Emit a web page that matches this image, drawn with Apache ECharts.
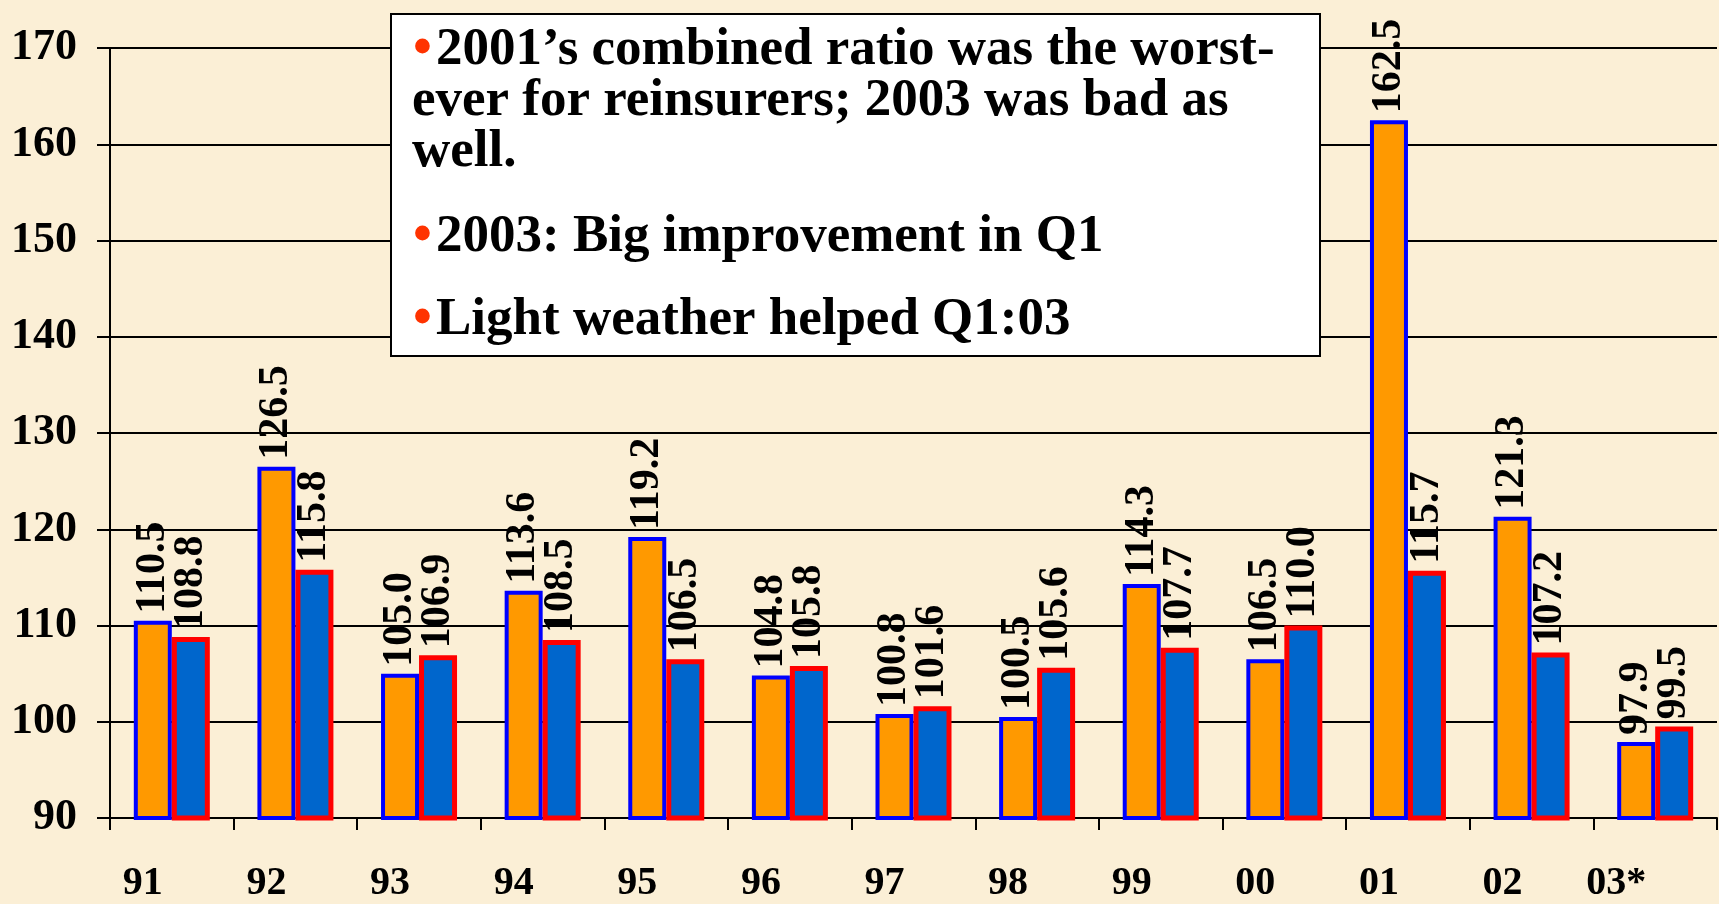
<!DOCTYPE html>
<html>
<head>
<meta charset="utf-8">
<title>Combined ratio</title>
<script src="https://cdn.jsdelivr.net/npm/echarts@6/dist/echarts.min.js"></script>
<style>
  html, body { margin: 0; padding: 0; background: #fbefd6; }
  #main { width: 1719px; height: 904px; }
</style>
</head>
<body>
<div id="main"></div>
<script>
var years = ['91', '92', '93', '94', '95', '96', '97', '98', '99', '00', '01', '02', '03*'];
var reinsurers = [110.5, 126.5, 105.0, 113.6, 119.2, 104.8, 100.8, 100.5, 114.3, 106.5, 162.5, 121.3, 97.9];
var industry = [108.8, 115.8, 106.9, 108.5, 106.5, 105.8, 101.6, 105.6, 107.7, 110.0, 115.7, 107.2, 99.5];
var yMin = 90, yMax = 170, yStep = 10;
var notes = [
  { bullet: true, text: '2001\u2019s combined ratio was the worst-' },
  { bullet: false, text: 'ever for reinsurers; 2003 was bad as' },
  { bullet: false, text: 'well.' },
  { bullet: true, text: '2003: Big improvement in Q1' },
  { bullet: true, text: 'Light weather helped Q1:03' }
];

window.onload = function () {
  var myChart = echarts.init(document.getElementById('main'));
  var serif = '"Liberation Serif", "Times New Roman", serif';

  var valueLabel = {
    show: true,
    position: 'top',
    distance: 7,
    rotate: 90,
    align: 'left',
    verticalAlign: 'middle',
    color: '#000',
    fontFamily: serif,
    fontWeight: 'bold',
    fontSize: 42,
    formatter: function (p) {
      return p.value.toFixed(1);
    }
  };

  // note box: white rect + one text line each
  var lineY = [50, 101, 152, 237, 320];
  var graphics = [{
    type: 'rect',
    z: 100,
    shape: { x: 391, y: 14, width: 929, height: 342 },
    style: { fill: '#fff', stroke: '#000', lineWidth: 2 }
  }];
  notes.forEach(function (n, i) {
    if (n.bullet) {
      graphics.push({
        type: 'text', z: 101, x: 413, y: lineY[i],
        style: { text: '\u2022', font: 'bold 54px ' + serif, fill: '#ff3300', verticalAlign: 'middle' }
      });
    }
    graphics.push({
      type: 'text', z: 101, x: n.bullet ? 436 : 412, y: lineY[i],
      style: { text: n.text, font: 'bold 53px ' + serif, fill: '#000', verticalAlign: 'middle' }
    });
  });

  var option = {
    backgroundColor: '#fbefd6',
    animation: false,
    grid: { left: 110, right: 2, top: 48, bottom: 84 },
    xAxis: {
      type: 'category',
      data: years,
      axisLine: { lineStyle: { color: '#000', width: 2 } },
      axisTick: { show: true, interval: 0, length: 12, lineStyle: { color: '#000', width: 2 } },
      axisLabel: {
        interval: 0,
        margin: 46,
        align: 'right',
        padding: [0, 9, 0, 0],
        color: '#000',
        fontFamily: serif,
        fontWeight: 'bold',
        fontSize: 40
      }
    },
    yAxis: {
      type: 'value',
      min: yMin,
      max: yMax,
      interval: yStep,
      axisLine: { show: true, lineStyle: { color: '#000', width: 2 } },
      axisTick: { show: true, length: 13, lineStyle: { color: '#000', width: 2 } },
      splitLine: { lineStyle: { color: '#000', width: 2 } },
      axisLabel: {
        margin: 33,
        color: '#000',
        fontFamily: serif,
        fontWeight: 'bold',
        fontSize: 44
      }
    },
    series: [
      {
        name: 'Reinsurers',
        type: 'bar',
        data: reinsurers,
        barWidth: 38,
        barGap: '0%',
        itemStyle: { color: '#ff9900', borderColor: '#0000ff', borderWidth: 4 },
        label: valueLabel
      },
      {
        name: 'P/C Industry',
        type: 'bar',
        z: 3,
        data: industry,
        barWidth: 38,
        barGap: '0%',
        itemStyle: { color: '#0066cc', borderColor: '#ff0000', borderWidth: 5 },
        label: valueLabel
      }
    ],
    graphic: graphics
  };

  if (option && typeof option === 'object') {
    myChart.setOption(option);
  }
};
</script>
</body>
</html>
